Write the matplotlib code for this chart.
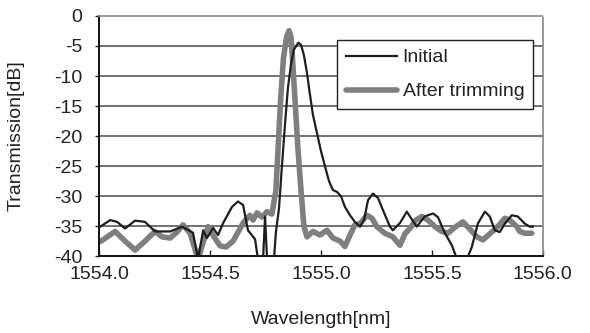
import matplotlib
matplotlib.use("Agg")
import matplotlib.pyplot as plt
import numpy as np

plt.rcParams['font.family'] = ['Liberation Sans', 'DejaVu Sans']

# Initial spectrum (wavelength in nm, transmission in dB)
wl_initial = [1554.005, 1554.050, 1554.081, 1554.117, 1554.162, 1554.207, 1554.252,
              1554.320, 1554.374, 1554.423, 1554.446, 1554.469, 1554.486, 1554.514,
              1554.536, 1554.559, 1554.599, 1554.626, 1554.649, 1554.671, 1554.703,
              1554.716, 1554.739, 1554.748, 1554.757, 1554.770, 1554.788, 1554.797,
              1554.811, 1554.824, 1554.838, 1554.851, 1554.865, 1554.878, 1554.898,
              1554.910, 1554.923, 1554.937, 1554.950, 1554.964, 1554.982, 1555.000,
              1555.018, 1555.036, 1555.054, 1555.072, 1555.090, 1555.108, 1555.131,
              1555.153, 1555.176, 1555.194, 1555.212, 1555.234,
              1555.257, 1555.279, 1555.311, 1555.324, 1555.356, 1555.387, 1555.401,
              1555.432, 1555.468, 1555.505, 1555.527, 1555.559, 1555.590, 1555.613,
              1555.658, 1555.680, 1555.707, 1555.739, 1555.761, 1555.784, 1555.806,
              1555.829, 1555.860, 1555.887, 1555.919, 1555.941, 1555.955]
db_initial = [-35.1, -34.0, -34.3, -35.4, -34.1, -34.3, -35.9,
              -35.9, -35.1, -36.1, -40.5, -35.7, -37.0, -35.3,
              -36.5, -34.5, -31.8, -30.9, -31.5, -35.7, -37.2,
              -40.5, -40.5, -33.4, -40.5, -40.5, -40.5, -36.0,
              -32.0, -25.0, -18.0, -12.0, -8.0, -5.6, -4.45,
              -4.8, -6.5, -9.5, -13.0, -16.5, -19.5, -22.5,
              -25.0, -27.5, -29.0, -29.3, -30.0, -31.8, -33.2,
              -34.3, -35.1, -34.0, -30.7, -29.6,
              -30.3, -32.3, -35.1, -35.7, -34.5, -32.6, -33.4,
              -35.1, -33.4, -32.9, -33.5, -36.2, -38.2, -40.5,
              -40.5, -38.5, -34.6, -32.6, -33.4, -35.7, -36.0,
              -34.6, -33.2, -33.4, -34.6, -35.1, -35.1]

# Spectrum after trimming
wl_trimmed = [1554.005, 1554.072, 1554.117, 1554.162, 1554.207, 1554.252, 1554.284,
              1554.320, 1554.351, 1554.378, 1554.410, 1554.446, 1554.491, 1554.518,
              1554.545, 1554.572, 1554.604, 1554.649, 1554.667, 1554.680, 1554.694,
              1554.712, 1554.734, 1554.757, 1554.779, 1554.797, 1554.818, 1554.831,
              1554.845, 1554.856, 1554.865, 1554.872, 1554.883, 1554.896, 1554.910,
              1554.923, 1554.937, 1554.964, 1554.995, 1555.027,
              1555.054, 1555.086, 1555.108, 1555.131, 1555.153, 1555.176, 1555.207,
              1555.230, 1555.252, 1555.288, 1555.324, 1555.356, 1555.378, 1555.401,
              1555.428, 1555.455, 1555.482, 1555.514, 1555.545, 1555.572, 1555.604,
              1555.640, 1555.671, 1555.703, 1555.730, 1555.761, 1555.797, 1555.829,
              1555.851, 1555.883, 1555.896, 1555.919, 1555.950]
db_trimmed = [-37.6, -35.9, -37.5, -39.0, -37.5, -35.9, -36.8,
              -37.0, -36.0, -34.8, -36.2, -40.5, -35.1, -36.8,
              -38.3, -38.5, -37.5, -34.5, -33.7, -33.2, -34.0,
              -32.8, -33.5, -32.6, -33.0, -29.0, -14.0, -7.0,
              -3.5, -2.45, -3.5, -7.3, -14.0, -22.0, -29.0,
              -35.0, -36.8, -35.9, -36.5, -35.7,
              -37.0, -37.5, -38.4, -36.5, -34.8, -34.6, -33.2,
              -33.7, -35.1, -36.2, -36.8, -38.2, -36.3, -35.4,
              -34.0, -33.4, -34.0, -35.1, -35.9, -36.2, -35.2,
              -34.3, -35.5, -36.8, -37.3, -36.3, -35.1, -33.7,
              -34.0, -35.1, -35.9, -36.2, -36.2]

y_ticks = [0, -5, -10, -15, -20, -25, -30, -35, -40]
x_ticks = [1554.0, 1554.5, 1555.0, 1555.5, 1556.0]

fig = plt.figure(figsize=(5.9, 3.33), dpi=100)
ax = fig.add_axes([0.168, 0.231, 0.752, 0.721])

for y in y_ticks[1:-1]:
    ax.axhline(y, color='#4a4a4a', lw=1.1, zorder=1)

ax.plot(wl_trimmed, db_trimmed, color='#7f7f7f', lw=4.0, label='After trimming',
        zorder=2, solid_joinstyle='round', solid_capstyle='round')
ax.plot(wl_initial, db_initial, color='#1e1e1e', lw=1.6, label='Initial', zorder=3,
        solid_joinstyle='round')

ax.set_xlim(1554.0, 1556.0)
ax.set_ylim(-40, 0)
ax.set_xticks(x_ticks)
ax.set_xticklabels(['%.1f' % v for v in x_ticks])
ax.set_yticks(y_ticks)
ax.set_yticklabels([str(v) for v in y_ticks])
ax.tick_params(axis='x', direction='in', length=4, labelsize=14, pad=7, width=1,
               colors='#222222')
ax.tick_params(axis='y', direction='out', length=3, labelsize=14, pad=9, width=1,
               colors='#222222')

ax.set_xlabel('Wavelength[nm]', fontsize=14, labelpad=20, color='#222222')
ax.set_ylabel('Transmission[dB]', fontsize=14, labelpad=21, color='#222222')

for side in ['left', 'bottom']:
    ax.spines[side].set_linewidth(1.4)
    ax.spines[side].set_color('#111111')
for side in ['top', 'right']:
    ax.spines[side].set_linewidth(1.2)
    ax.spines[side].set_color('#888888')
    ax.spines[side].set_linestyle((0, (2, 1)))

handles, labels = ax.get_legend_handles_labels()
leg = ax.legend(handles[::-1], labels[::-1], loc='upper right',
                bbox_to_anchor=(0.978, 0.9), fontsize=14, frameon=True,
                fancybox=False, handlelength=2.6, handletextpad=0.3,
                borderpad=0.45, labelspacing=0.85, borderaxespad=0)
leg.get_frame().set_edgecolor('#222222')
leg.get_frame().set_linewidth(1.0)
leg.get_frame().set_alpha(1)
for t in leg.get_texts():
    t.set_color('#222222')

fig.savefig('out.png', dpi=100)
